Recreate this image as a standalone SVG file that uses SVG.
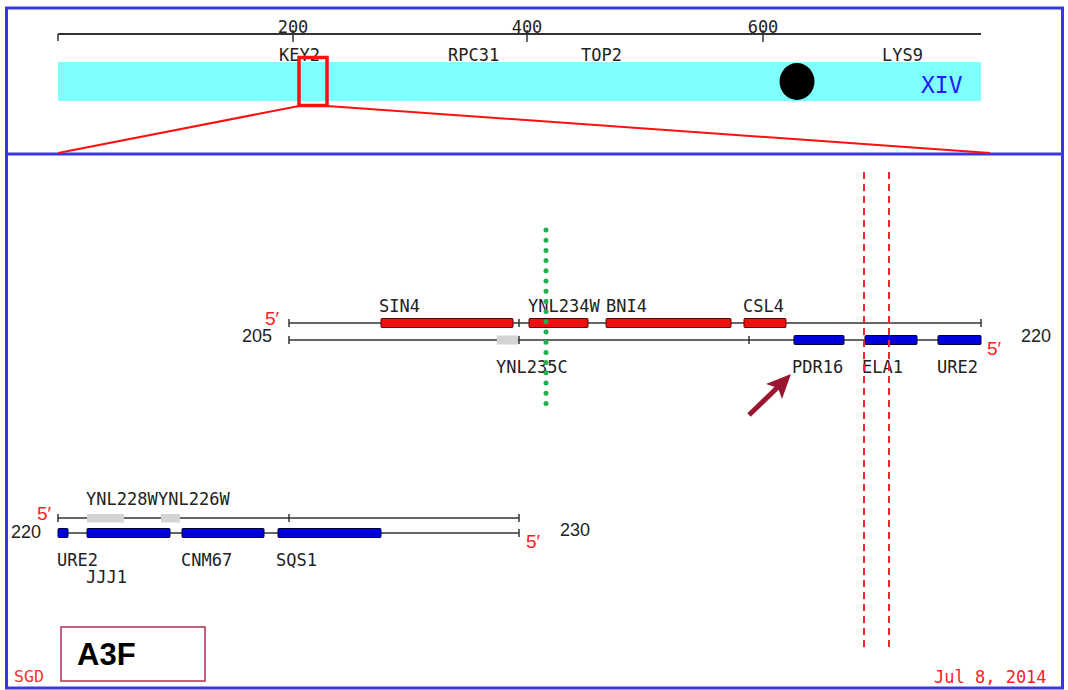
<svg xmlns="http://www.w3.org/2000/svg" width="1068" height="690" viewBox="0 0 1068 690">
<style>
.lbl{font-family:"DejaVu Sans Mono","Liberation Mono",monospace;font-size:17px;fill:#222}
.num{font-family:"Liberation Sans",Arial,sans-serif;font-size:18px;fill:#222}
.five{font-family:"Liberation Sans",Arial,sans-serif;font-size:19px;fill:#ff2020}
.strand{stroke:#333;stroke-width:1.5;fill:none}
.tick{stroke:#333;stroke-width:1.5}
.gr{fill:#ee1111;stroke:#5a0000;stroke-width:1}
.gb{fill:#0000dd;stroke:#00003a;stroke-width:1}
.gg{fill:#d4d4d4}
.rdash{stroke:#ff2030;stroke-width:2;stroke-dasharray:7 5;fill:none}
</style>
<rect x="0" y="0" width="1068" height="690" fill="#ffffff"/>
<g id="frame">
<rect x="6.5" y="8" width="1056" height="680" fill="none" stroke="#3838e0" stroke-width="3"/>
<line x1="6.5" y1="154" x2="1062.5" y2="154" stroke="#3838e0" stroke-width="3"/>
</g>
<g id="ruler">
<line x1="58" y1="34" x2="981" y2="34" stroke="#333" stroke-width="2"/>
<line x1="58" y1="34" x2="58" y2="41" class="tick"/>
<line x1="293" y1="30" x2="293" y2="42" class="tick"/>
<line x1="527" y1="30" x2="527" y2="42" class="tick"/>
<line x1="763" y1="30" x2="763" y2="42" class="tick"/>
<text class="lbl" x="293" y="33" text-anchor="middle">200</text>
<text class="lbl" x="527" y="33" text-anchor="middle">400</text>
<text class="lbl" x="763" y="33" text-anchor="middle">600</text>
</g>
<g id="chromosome">
<rect x="58" y="62" width="923" height="39" fill="#80ffff"/>
<ellipse cx="797" cy="81.5" rx="17.5" ry="18.5" fill="#000"/>
<text x="921" y="93" font-family="DejaVu Sans Mono,monospace" font-size="23" fill="#2020ff">XIV</text>
<text class="lbl" x="279" y="61">KEY2</text>
<text class="lbl" x="448" y="61">RPC31</text>
<text class="lbl" x="581" y="61">TOP2</text>
<text class="lbl" x="882" y="61">LYS9</text>
</g>
<g id="zoom-window">
<rect x="299" y="57.5" width="28" height="48" fill="none" stroke="#ff1010" stroke-width="3.5"/>
<line x1="299" y1="106" x2="58" y2="153" stroke="#ff1010" stroke-width="2"/>
<line x1="327" y1="106" x2="990" y2="153" stroke="#ff1010" stroke-width="2"/>
</g>
<g id="track-205-220">
<line x1="289" y1="323" x2="981" y2="323" class="strand"/>
<line x1="289" y1="340" x2="981" y2="340" class="strand"/>
<line x1="289" y1="319" x2="289" y2="327" class="tick"/>
<line x1="519" y1="319" x2="519" y2="327" class="tick"/>
<line x1="981" y1="319" x2="981" y2="327" class="tick"/>
<line x1="289" y1="336" x2="289" y2="344" class="tick"/>
<line x1="519" y1="336" x2="519" y2="344" class="tick"/>
<line x1="749" y1="336" x2="749" y2="344" class="tick"/>
<text class="five" x="265" y="325">5′</text>
<text class="num" x="242" y="342">205</text>
<text class="num" x="1021" y="342">220</text>
<text class="five" x="987" y="355">5′</text>
</g>
<g id="SIN4"><rect class="gr" x="381" y="318.5" width="132" height="9" rx="1"/><text class="lbl" x="379" y="312">SIN4</text></g>
<g id="YNL234W"><rect class="gr" x="529" y="318.5" width="59" height="9" rx="1"/><text class="lbl" x="528" y="312">YNL234W</text></g>
<g id="BNI4"><rect class="gr" x="606" y="318.5" width="125" height="9" rx="1"/><text class="lbl" x="606" y="312">BNI4</text></g>
<g id="CSL4"><rect class="gr" x="744" y="318.5" width="42" height="9" rx="1"/><text class="lbl" x="743" y="312">CSL4</text></g>
<g id="YNL235C"><rect class="gg" x="497" y="335.5" width="21" height="9"/><text class="lbl" x="496" y="373">YNL235C</text></g>
<g id="PDR16"><rect class="gb" x="794" y="335.5" width="50" height="9" rx="1"/><text class="lbl" x="792" y="373">PDR16</text></g>
<g id="ELA1"><rect class="gb" x="865" y="335.5" width="52" height="9" rx="1"/><text class="lbl" x="862" y="373">ELA1</text></g>
<g id="URE2-a"><rect class="gb" x="938" y="335.5" width="43" height="9" rx="1"/><text class="lbl" x="937" y="373">URE2</text></g>
<g id="track-220-230">
<line x1="58" y1="518" x2="519" y2="518" class="strand"/>
<line x1="58" y1="533" x2="519" y2="533" class="strand"/>
<line x1="58" y1="514" x2="58" y2="522" class="tick"/>
<line x1="289" y1="514" x2="289" y2="522" class="tick"/>
<line x1="519" y1="514" x2="519" y2="522" class="tick"/>
<line x1="519" y1="529" x2="519" y2="537" class="tick"/>
<text class="five" x="37" y="520">5′</text>
<text class="num" x="11" y="538">220</text>
<text class="num" x="560" y="536">230</text>
<text class="five" x="526" y="548">5′</text>
</g>
<g id="YNL228W"><rect class="gg" x="87" y="514" width="37" height="8.5"/><text class="lbl" x="86" y="505">YNL228W</text></g>
<g id="YNL226W"><rect class="gg" x="161" y="514" width="19" height="8.5"/><text class="lbl" x="158" y="505">YNL226W</text></g>
<g id="URE2-b"><rect class="gb" x="58" y="528.5" width="10" height="9" rx="1"/><text class="lbl" x="57" y="566">URE2</text></g>
<g id="JJJ1"><rect class="gb" x="87" y="528.5" width="83" height="9" rx="1"/><text class="lbl" x="86" y="583">JJJ1</text></g>
<g id="CNM67"><rect class="gb" x="182" y="528.5" width="82" height="9" rx="1"/><text class="lbl" x="181" y="566">CNM67</text></g>
<g id="SQS1"><rect class="gb" x="278" y="528.5" width="103" height="9" rx="1"/><text class="lbl" x="276" y="566">SQS1</text></g>
<g id="connectors">
<line x1="546" y1="230" x2="546" y2="410" stroke="#20b050" stroke-width="5" stroke-linecap="round" stroke-dasharray="0 10.2"/>
<line x1="864" y1="172" x2="864" y2="652" class="rdash"/>
<line x1="889" y1="172" x2="889" y2="652" class="rdash"/>
<line x1="749" y1="415" x2="780" y2="385" stroke="#9a1530" stroke-width="5"/>
<polygon points="791,374 782,399 778,388 766,384" fill="#9a1530"/>
</g>
<g id="A3F">
<rect x="61" y="627" width="144" height="54" fill="#fff" stroke="#b03050" stroke-width="1.5"/>
<text x="77" y="665" font-family="Liberation Sans,Arial,sans-serif" font-weight="bold" font-size="31" fill="#000">A3F</text>
</g>
<text x="14" y="682" font-family="DejaVu Sans Mono,monospace" font-size="16" fill="#ff3030" textLength="30" lengthAdjust="spacingAndGlyphs">SGD</text>
<text x="934" y="683" font-family="DejaVu Sans Mono,monospace" font-size="17" fill="#ff2020">Jul 8, 2014</text>
</svg>
